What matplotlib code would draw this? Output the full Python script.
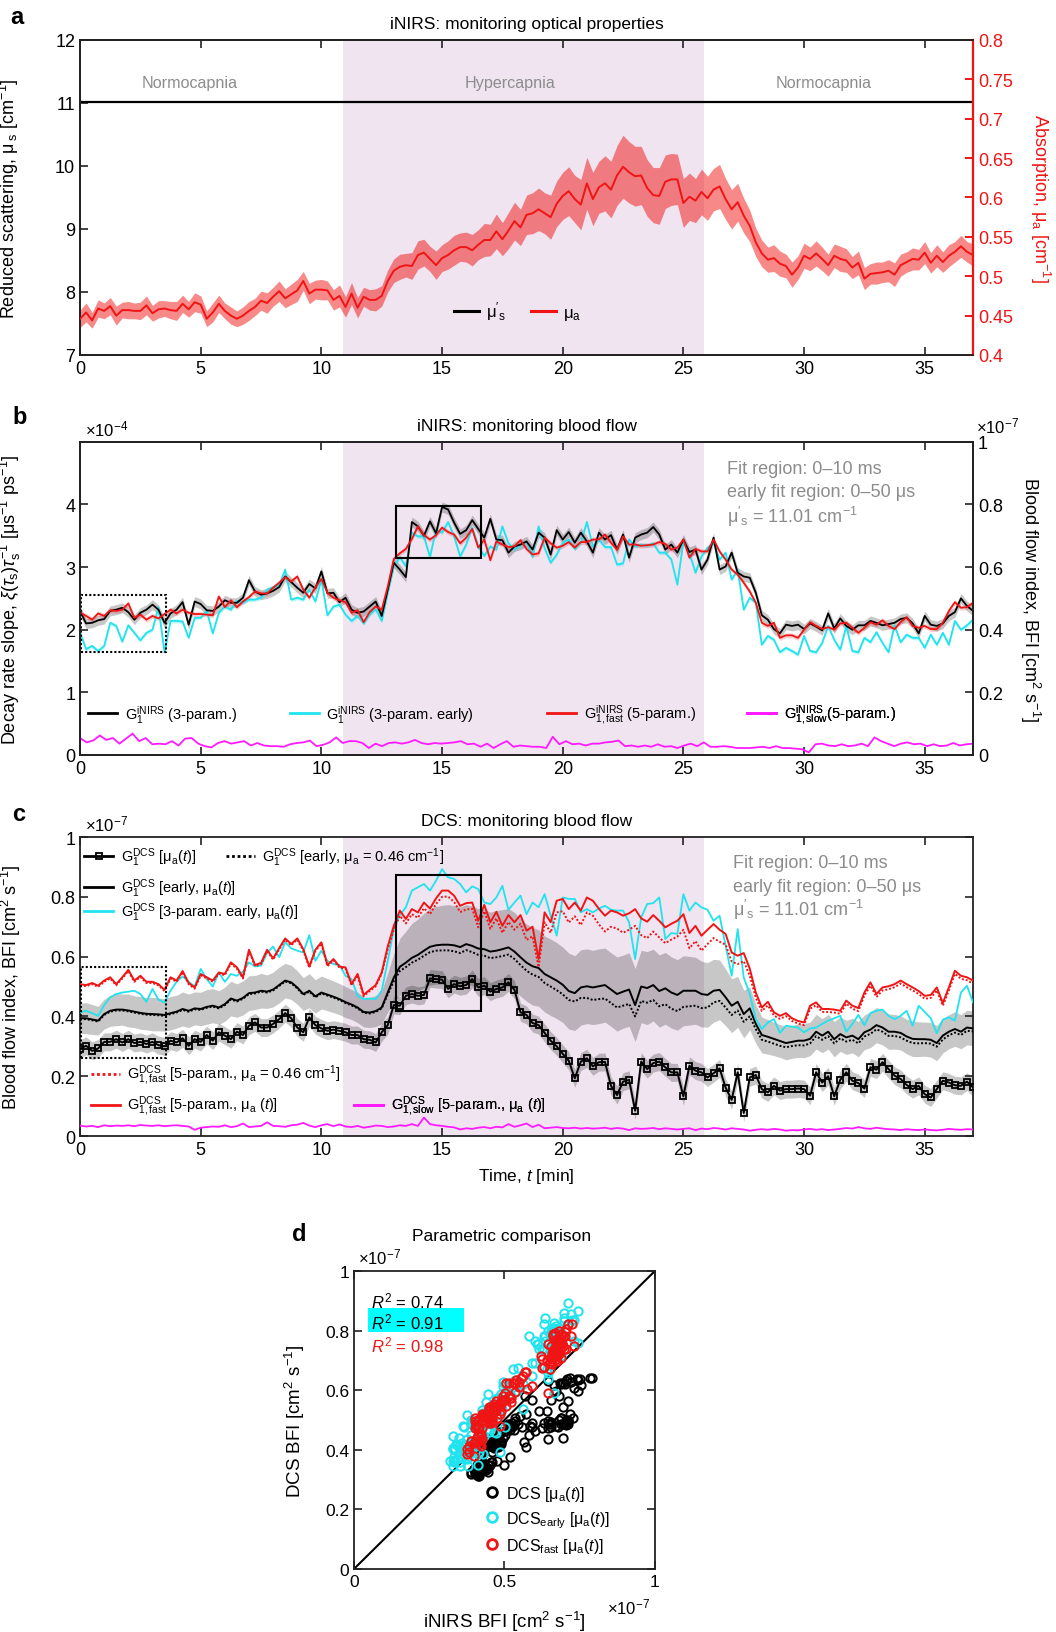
import numpy as np
import matplotlib
matplotlib.use('Agg')
import matplotlib.pyplot as plt
from matplotlib.lines import Line2D
from matplotlib.patches import Rectangle
from matplotlib.ticker import FuncFormatter

plt.rcParams['font.family'] = ['Liberation Sans', 'DejaVu Sans']
plt.rcParams['mathtext.fontset'] = 'custom'
plt.rcParams['mathtext.rm'] = 'Liberation Sans'
plt.rcParams['mathtext.it'] = 'Liberation Sans:italic'
plt.rcParams['mathtext.bf'] = 'Liberation Sans:bold'

# ---------------- data (time grid 0..37 min) ----------------
T_END = 37.0
HYPER = (10.9, 25.85)          # hypercapnia window [min]
MUS_PRIME = 11.01              # reduced scattering [cm-1]
SLOPE_TO_BFI = 0.2             # 5e-4 decay slope <-> 1e-7 BFI

# a: absorption mu_a [cm-1] and its spread
mua = [0.446,0.454,0.444,0.459, 0.456,0.462,0.450,0.457, 0.457,0.456,0.456,0.463, 0.453,0.458,0.459,0.457, 0.456,0.465,0.458,0.467,
       0.464,0.446,0.454,0.465, 0.456,0.450,0.446,0.450, 0.456,0.461,0.469,0.466, 0.474,0.481,0.472,0.477, 0.482,0.494,0.478,0.483,
       0.483,0.482,0.470,0.475, 0.461,0.478,0.460,0.474, 0.470,0.470,0.475,0.494, 0.507,0.512,0.514,0.513, 0.527,0.530,0.522,0.514,
       0.523,0.527,0.533,0.537, 0.537,0.533,0.540,0.546, 0.546,0.557,0.547,0.558, 0.570,0.562,0.578,0.580, 0.585,0.580,0.575,0.592,
       0.602,0.608,0.598,0.591, 0.618,0.598,0.613,0.618, 0.610,0.628,0.639,0.632, 0.627,0.628,0.612,0.603, 0.602,0.620,0.623,0.623,
       0.593,0.601,0.596,0.607, 0.599,0.610,0.614,0.598, 0.585,0.594,0.577,0.564, 0.543,0.529,0.521,0.523, 0.516,0.513,0.502,0.511,
       0.526,0.522,0.529,0.522, 0.514,0.526,0.522,0.520, 0.511,0.517,0.497,0.503, 0.504,0.505,0.507,0.502, 0.514,0.518,0.522,0.521,
       0.530,0.517,0.526,0.518, 0.526,0.531,0.538,0.531, 0.527]
mua_sd = [0.011,0.012,0.010,0.011, 0.010,0.011,0.012,0.010, 0.011,0.010,0.011,0.012, 0.010,0.011,0.010,0.011, 0.012,0.011,0.010,0.012,
          0.011,0.010,0.012,0.011, 0.010,0.011,0.010,0.011, 0.012,0.011,0.012,0.013, 0.012,0.013,0.012,0.013, 0.014,0.012,0.013,0.012,
          0.013,0.012,0.013,0.014, 0.013,0.014,0.013,0.012, 0.013,0.014,0.013,0.014, 0.015,0.016,0.015,0.017, 0.018,0.017,0.016,0.018,
          0.017,0.018,0.019,0.018, 0.019,0.020,0.019,0.021, 0.020,0.022,0.021,0.023, 0.024,0.023,0.025,0.026, 0.027,0.026,0.028,0.029,
          0.030,0.031,0.030,0.032, 0.033,0.034,0.033,0.035, 0.036,0.038,0.040,0.039, 0.038,0.037,0.036,0.035, 0.036,0.034,0.033,0.032,
          0.031,0.030,0.028,0.029, 0.028,0.027,0.028,0.026, 0.025,0.024,0.022,0.020, 0.018,0.017,0.016,0.017, 0.016,0.015,0.016,0.015,
          0.016,0.015,0.016,0.015, 0.014,0.015,0.016,0.015, 0.014,0.015,0.014,0.013, 0.014,0.013,0.014,0.015, 0.014,0.013,0.014,0.013,
          0.014,0.013,0.014,0.013, 0.014,0.013,0.014,0.013, 0.014]

# b: iNIRS decay rate slope [x1e-4 us-1 ps-1]
b_black = [2.30,2.10,2.11,2.15, 2.17,2.30,2.32,2.35, 2.28,2.16,2.27,2.32, 2.40,2.32,2.11,2.26, 2.32,2.44,2.08,2.45,
           2.41,2.31,2.30,2.37, 2.47,2.43,2.43,2.51, 2.79,2.61,2.56,2.58, 2.62,2.68,2.85,2.76, 2.67,2.59,2.73,2.66,
           2.93,2.58,2.59,2.44, 2.51,2.32,2.27,2.29, 2.37,2.45,2.22,2.64, 3.07,2.96,2.84,3.72, 3.65,3.50,3.73,3.54,
           3.96,3.92,3.71,3.53, 3.59,3.75,3.61,3.47, 3.77,3.44,3.43,3.23, 3.33,3.36,3.41,3.28, 3.55,3.47,3.20,3.59,
           3.44,3.56,3.39,3.55, 3.41,3.23,3.55,3.44, 3.51,3.28,3.52,3.15, 3.47,3.52,3.55,3.64, 3.52,3.28,3.36,3.23,
           3.44,3.24,3.28,2.96, 3.12,3.47,2.96,3.01, 3.23,2.91,2.85,2.83, 2.59,2.23,2.16,2.01, 1.94,2.08,2.06,2.08,
           2.01,2.10,2.05,1.99, 2.26,2.02,2.18,2.06, 2.00,2.07,2.07,2.14, 2.11,2.07,2.09,2.11, 2.17,2.19,2.10,1.94,
           2.22,2.08,2.06,2.10, 2.22,2.28,2.50,2.38, 2.30]
b_cyan = [1.95,1.69,1.74,1.66, 1.74,2.11,2.06,1.81, 2.07,1.95,1.83,1.95, 2.00,2.36,1.64,2.14, 2.14,2.13,1.87,2.19,
          2.19,2.30,1.94,2.27, 2.37,2.32,2.46,2.43, 2.48,2.48,2.51,2.64, 2.68,2.71,2.96,2.48, 2.51,2.48,2.64,2.45,
          2.80,2.23,2.37,2.40, 2.24,2.14,2.22,2.10, 2.24,2.33,2.14,2.59, 3.01,3.16,3.01,3.55, 3.49,3.49,3.16,3.60,
          3.55,3.72,3.49,3.17, 3.36,3.63,3.33,3.18, 3.33,3.28,3.65,3.38, 3.28,3.36,3.41,3.16, 3.65,3.30,3.07,3.20,
          3.39,3.44,3.29,3.39, 3.72,3.33,3.44,3.32, 3.32,3.04,3.06,3.44, 3.33,3.36,3.34,3.38, 3.23,3.23,3.12,2.72,
          3.41,3.23,2.91,3.17, 3.31,3.39,3.12,3.23, 2.80,2.96,2.32,2.51, 2.43,1.76,1.90,1.84, 1.64,1.71,1.66,1.60,
          1.90,1.66,1.64,1.79, 2.06,1.84,1.68,2.06, 1.66,1.64,1.87,1.80, 1.96,1.79,1.64,2.07, 1.80,1.92,1.87,1.87,
          1.71,1.92,1.76,1.95, 1.76,2.14,2.00,2.07, 2.16]
b_red = [2.27,2.22,2.16,2.26, 2.22,2.31,2.30,2.32, 2.42,2.19,2.24,2.16, 2.22,2.18,2.25,2.32, 2.26,2.32,2.27,2.25,
         2.25,2.24,2.23,2.53, 2.36,2.47,2.36,2.45, 2.52,2.61,2.58,2.58, 2.67,2.75,2.84,2.77, 2.85,2.64,2.51,2.68,
         2.81,2.59,2.51,2.47, 2.44,2.27,2.31,2.12, 2.28,2.37,2.32,2.69, 3.13,3.22,3.29,3.45, 3.65,3.51,3.44,3.51,
         3.63,3.56,3.52,3.38, 3.47,3.61,3.31,3.44, 3.11,3.41,3.36,3.32, 3.33,3.43,3.29,3.20, 3.22,3.47,3.38,3.31,
         3.34,3.40,3.31,3.40, 3.40,3.44,3.44,3.52, 3.39,3.28,3.49,3.36, 3.36,3.34,3.35,3.36, 3.40,3.37,3.28,3.31,
         3.44,3.15,3.29,3.25, 3.25,3.44,3.25,3.12, 2.96,2.88,2.75,2.61, 2.43,2.11,2.06,2.11, 1.87,1.91,1.91,1.87,
         2.00,2.12,2.06,2.01, 2.04,2.00,2.10,2.11, 2.03,1.95,2.03,2.12, 2.08,2.15,2.06,2.01, 2.12,2.20,2.06,2.03,
         2.06,2.01,2.01,2.11, 2.30,2.44,2.35,2.36, 2.43]
b_magenta = [0.27,0.20,0.23,0.31,0.24,0.27,0.18,0.26,0.34,0.22,0.27,0.17,0.18,0.17,0.22,0.15,0.26,0.27,0.18,0.14,
             0.12,0.19,0.22,0.18,0.20,0.22,0.15,0.19,0.15,0.14,0.14,0.13,0.17,0.19,0.20,0.23,0.14,0.16,0.20,0.28,
             0.19,0.22,0.22,0.19,0.11,0.18,0.14,0.19,0.20,0.18,0.20,0.24,0.19,0.17,0.19,0.18,0.19,0.20,0.22,0.17,
             0.18,0.13,0.18,0.11,0.17,0.22,0.13,0.15,0.14,0.13,0.13,0.11,
             0.29,0.17,0.22,0.17,0.18,0.15,0.18,0.18,0.20,0.21,0.23,0.14,0.15,0.13,0.15,0.13,0.17,0.13,0.14,0.11,
             0.15,0.18,0.14,0.20,0.13,0.13,0.14,0.13,0.11,0.11,0.11,0.12,0.13,0.11,0.14,0.11,0.11,0.10,0.09,0.04,
             0.17,0.18,0.15,0.14,0.17,0.14,0.15,0.18,0.14,0.28,0.22,0.18,0.14,0.18,0.20,0.17,0.18,0.14,0.17,0.14,
             0.15,0.19,0.15,0.17,0.18]
B_BLACK_SD, B_RED_SD, B_CYAN_SD = 0.08, 0.04, 0.03

# c: DCS blood flow index [x1e-7 cm2 s-1]
c_squares = [0.291,0.302,0.285,0.293, 0.315,0.315,0.324,0.313, 0.324,0.311,0.315,0.308, 0.315,0.304,0.300,0.319, 0.313,0.327,0.302,0.324,
             0.315,0.338,0.319,0.347, 0.336,0.324,0.349,0.338, 0.369,0.380,0.363,0.363, 0.375,0.391,0.411,0.394, 0.363,0.347,0.397,0.371,
             0.360,0.352,0.356,0.352, 0.347,0.338,0.338,0.324, 0.322,0.313,0.347,0.371, 0.438,0.436,0.469,0.475, 0.469,0.472,0.527,0.525,
             0.523,0.492,0.508,0.501, 0.505,0.525,0.497,0.503, 0.483,0.492,0.497,0.514, 0.489,0.414,0.405,0.378, 0.371,0.345,0.319,0.300,
             0.275,0.252,0.193,0.249, 0.260,0.233,0.247,0.248, 0.168,0.137,0.182,0.188, 0.085,0.249,0.224,0.244, 0.249,0.230,0.213,0.213,
             0.133,0.235,0.219,0.213, 0.196,0.210,0.226,0.162, 0.121,0.213,0.077,0.196, 0.204,0.157,0.146,0.168, 0.152,0.157,0.157,0.159,
             0.157,0.135,0.213,0.179, 0.200,0.133,0.188,0.213, 0.185,0.177,0.159,0.230, 0.222,0.247,0.224,0.202, 0.191,0.171,0.157,0.168,
             0.140,0.129,0.157,0.185, 0.179,0.170,0.168,0.182, 0.163]
C_SQ_SD = 0.03
c_black = [0.394,0.394,0.390,0.386, 0.408,0.419,0.423,0.423, 0.420,0.416,0.412,0.409, 0.408,0.407,0.405,0.411, 0.416,0.425,0.419,0.427,
           0.425,0.432,0.436,0.430, 0.441,0.460,0.453,0.462, 0.478,0.480,0.486,0.483, 0.490,0.505,0.520,0.514, 0.497,0.475,0.486,0.467,
           0.480,0.473,0.466,0.458, 0.448,0.440,0.430,0.415, 0.413,0.418,0.430,0.480, 0.530,0.566,0.580,0.596, 0.606,0.620,0.633,0.638,
           0.640,0.640,0.638,0.632, 0.642,0.636,0.627,0.625, 0.617,0.620,0.625,0.631, 0.617,0.598,0.580,0.568, 0.562,0.542,0.531,0.520,
           0.506,0.485,0.478,0.497, 0.501,0.497,0.501,0.505, 0.490,0.475,0.483,0.490, 0.438,0.500,0.495,0.505, 0.485,0.494,0.480,0.472,
           0.486,0.486,0.486,0.475, 0.472,0.486,0.489,0.464, 0.436,0.449,0.408,0.427, 0.375,0.338,0.332,0.325, 0.318,0.311,0.315,0.319,
           0.319,0.325,0.349,0.336, 0.349,0.324,0.341,0.330, 0.336,0.324,0.347,0.356, 0.371,0.363,0.349,0.349, 0.345,0.333,0.325,0.324,
           0.324,0.322,0.311,0.336, 0.349,0.358,0.349,0.363, 0.360]
c_black_sd = [0.050,0.052,0.050,0.048, 0.050,0.052,0.054,0.052, 0.055,0.053,0.055,0.054, 0.056,0.055,0.054,0.056, 0.055,0.057,0.056,0.055,
              0.056,0.058,0.057,0.056, 0.057,0.058,0.056,0.057, 0.058,0.057,0.058,0.056, 0.058,0.060,0.058,0.057, 0.056,0.055,0.057,0.056,
              0.055,0.054,0.053,0.052, 0.052,0.050,0.051,0.050, 0.050,0.052,0.055,
              0.065,0.080,0.095,0.105, 0.115,0.120,0.125,0.128, 0.130,0.132,0.134,0.133, 0.134,0.132,0.133,0.134, 0.133,0.132,0.134,0.132,
              0.130,0.131,0.130,0.129, 0.130,0.128,0.127,0.128, 0.127,0.126,0.127,0.125, 0.126,0.125,0.124,0.125, 0.124,0.123,0.124,0.122,
              0.123,0.122,0.121,0.122, 0.120,0.121,0.120,0.119, 0.118,0.117,0.115,0.112, 0.110,0.108,0.105,0.100, 0.095,0.090,0.085,0.080,
              0.072,
              0.065,0.060,0.058,0.056, 0.055,0.056,0.055,0.056, 0.057,0.056,0.058,0.057, 0.058,0.059,0.058,0.057, 0.058,0.059,0.058,0.060,
              0.059,0.058,0.059,0.058, 0.057,0.058,0.059,0.058, 0.057,0.058,0.059,0.058, 0.057,0.058,0.057,0.058, 0.058]
c_black_dot = [0.391,0.391,0.387,0.383, 0.405,0.416,0.420,0.420, 0.417,0.413,0.409,0.406, 0.405,0.404,0.402,0.408, 0.413,0.422,0.416,0.424,
               0.422,0.429,0.433,0.427, 0.438,0.457,0.450,0.459, 0.475,0.477,0.483,0.480, 0.487,0.502,0.517,0.511, 0.494,0.472,0.483,0.464,
               0.477,0.470,0.463,0.455, 0.445,0.437,0.427,0.412, 0.410,0.415,0.427,
               0.474,0.518,0.552,0.565,0.580,0.590,0.603,0.615,0.620,0.621, 0.621,0.618,0.612,0.622,0.615,0.606,0.603,0.595,0.598,0.602,
               0.607,0.592,0.572,0.553,0.540,0.532,0.512,0.500,0.488,0.474, 0.455,0.450,0.462,0.462,0.455,0.458,0.460,0.445,0.430,0.436,
               0.442,0.400,0.452,0.446,0.455,0.434,0.441,0.426,0.418,0.432, 0.434,0.436,0.428,0.430,0.447,0.452,0.430,0.405,0.420,0.382,
               0.400,0.358,0.322,0.316,0.309,0.302,0.297,0.301,0.304,0.303, 0.310,0.334,0.322,0.334,0.310,0.327,0.316,0.322,0.310,0.333,
               0.342,0.357,0.349,0.335,0.335,0.330,0.319,0.311,0.310,0.311, 0.309,0.299,0.323,0.337,0.346,0.338,0.352,0.350]
c_cyan = [0.414,0.419,0.411,0.402, 0.438,0.464,0.475,0.480, 0.483,0.486,0.475,0.449, 0.492,0.456,0.447,0.486, 0.516,0.534,0.516,0.500,
          0.559,0.525,0.500,0.547, 0.516,0.542,0.536,0.550, 0.581,0.567,0.570,0.612, 0.634,0.598,0.648,0.628, 0.620,0.614,0.672,0.586,
          0.620,0.586,0.575,0.572, 0.536,0.525,0.469,0.458, 0.460,0.458,0.486,0.586, 0.692,0.739,0.765,0.821, 0.832,0.843,0.821,0.854,
          0.893,0.865,0.860,0.843, 0.815,0.835,0.826,0.781, 0.776,0.798,0.837,0.757, 0.781,0.804,0.742,0.781, 0.765,0.809,0.737,0.670,
          0.798,0.793,0.793,0.748, 0.759,0.748,0.761,0.770, 0.757,0.754,0.754,0.715, 0.592,0.731,0.776,0.779, 0.798,0.659,0.679,0.676,
          0.809,0.754,0.781,0.765, 0.757,0.720,0.737,0.637, 0.536,0.692,0.531,0.475, 0.391,0.358,0.380,0.391, 0.345,0.369,0.366,0.363,
          0.347,0.360,0.363,0.375, 0.386,0.394,0.402,0.349, 0.375,0.405,0.371,0.411, 0.419,0.423,0.402,0.391, 0.402,0.419,0.369,0.436,
          0.415,0.394,0.344,0.389, 0.397,0.386,0.480,0.503, 0.447]
c_red = [0.508,0.505,0.512,0.503, 0.520,0.531,0.508,0.531, 0.556,0.520,0.536,0.516, 0.516,0.508,0.489,0.531, 0.520,0.552,0.512,0.497,
         0.542,0.531,0.520,0.547, 0.542,0.581,0.564,0.531, 0.623,0.572,0.579,0.623, 0.594,0.628,0.661,0.642, 0.661,0.625,0.567,0.623,
         0.648,0.572,0.592,0.567, 0.564,0.508,0.542,0.472, 0.489,0.505,0.547,0.634, 0.703,0.754,0.726,0.759, 0.748,0.781,0.761,0.795,
         0.821,0.821,0.804,0.770, 0.779,0.781,0.720,0.773, 0.715,0.750,0.703,0.739, 0.715,0.739,0.687,0.700, 0.592,0.748,0.715,0.787,
         0.793,0.759,0.781,0.754, 0.798,0.787,0.760,0.737, 0.754,0.748,0.737,0.745, 0.759,0.728,0.717,0.739, 0.720,0.698,0.710,0.720,
         0.742,0.679,0.703,0.670, 0.690,0.709,0.690,0.676, 0.614,0.603,0.612,0.560, 0.480,0.430,0.449,0.414, 0.402,0.411,0.394,0.385,
         0.380,0.436,0.447,0.425, 0.425,0.423,0.419,0.453, 0.436,0.428,0.480,0.514, 0.475,0.497,0.501,0.508, 0.520,0.508,0.497,0.485,
         0.469,0.472,0.497,0.445, 0.497,0.553,0.536,0.531, 0.520]
c_red_dot = [0.504,0.501,0.508,0.499, 0.516,0.527,0.504,0.527, 0.552,0.516,0.532,0.512, 0.512,0.504,0.485,0.527, 0.516,0.548,0.508,0.493,
             0.538,0.527,0.516,0.543, 0.538,0.577,0.560,0.527, 0.619,0.568,0.575,0.619, 0.590,0.624,0.657,0.638, 0.657,0.621,0.563,0.619,
             0.644,0.568,0.588,0.563, 0.560,0.504,0.538,0.468, 0.485,0.501,0.543,
             0.625,0.690,0.737,0.711,0.742,0.730,0.762,0.742,0.776,0.800, 0.801,0.783,0.749,0.758,0.760,0.698,0.752,0.693,0.728,0.680,
             0.716,0.690,0.710,0.656,0.668,0.565,0.715,0.680,0.748,0.752, 0.714,0.735,0.706,0.748,0.737,0.708,0.684,0.700,0.694,0.680,
             0.690,0.703,0.672,0.662,0.684,0.664,0.645,0.657,0.667,0.690, 0.628,0.652,0.620,0.642,0.662,0.650,0.640,0.584,0.575,0.585,
             0.536,0.462,0.418,0.437,0.403,0.392,0.401,0.385,0.376,0.371, 0.426,0.437,0.415,0.415,0.413,0.409,0.443,0.426,0.418,0.470,
             0.503,0.465,0.487,0.491,0.498,0.510,0.498,0.487,0.475,0.459, 0.462,0.487,0.436,0.487,0.543,0.526,0.521,0.510]
c_magenta = [0.035,0.032,0.034,0.030,0.036,0.033,0.035,0.034,0.036,0.033,0.037,0.035,0.034,0.036,0.033,0.035,0.036,0.034,0.032,0.021,
             0.028,0.030,0.032,0.031,0.036,0.030,0.033,0.042,0.030,0.032,0.034,0.046,0.034,0.033,0.031,0.036,0.038,0.044,0.035,0.030,
             0.036,0.040,0.033,0.039,0.032,0.030,0.034,0.028,0.031,0.035,0.034,0.030,0.032,0.036,0.034,0.040,0.034,0.062,0.040,0.036,
             0.034,0.031,0.029,0.022,0.026,0.024,0.028,0.030,0.026,0.031,0.029,0.040,0.031,0.036,0.042,0.030,0.038,0.026,0.028,0.030,
             0.027,0.026,0.028,0.025,0.027,0.025,0.026,0.028,0.024,0.027,0.025,0.020,0.026,0.024,0.025,0.027,0.023,0.026,0.024,0.022,
             0.024,0.026,0.020,0.025,0.023,0.027,0.025,0.022,0.026,0.024,0.022,0.018,0.021,0.023,0.021,0.024,0.022,0.018,0.020,0.019,
             0.022,0.024,0.021,0.023,0.020,0.022,0.024,0.027,0.025,0.030,0.026,0.024,0.028,0.025,0.023,0.022,0.020,0.023,0.021,0.020,
             0.022,0.020,0.019,0.021,0.024,0.022,0.021,0.023,0.022]

# zoom boxes drawn in b and c: (t0, t1, y0, y1)
BOX_B = (13.1, 16.6, 3.15, 3.97)
DOTBOX_B = (0.05, 3.55, 1.64, 2.56)
BOX_C = (13.1, 16.6, 0.419, 0.873)
DOTBOX_C = (0.05, 3.55, 0.26, 0.564)

R2_LABELS = ['0.74', '0.91', '0.98']

# ---------------- style ----------------
PURPLE = '#efe4f0'
RED = '#f01414'
CYAN = '#1fe3ee'
MAGENTA = '#ff1aff'
GRAYTXT = '#8c8c8c'
SPINE = '#222222'
TICK_FS = 13
LAB_FS = 13
LEG_FS = 10.5
fmt = FuncFormatter(lambda v, p: f'{v:g}')


def tgrid(y):
    return np.linspace(0, T_END, len(y))


def style(ax, top=True, right=True):
    for s in ax.spines.values():
        s.set_linewidth(1.3)
        s.set_color(SPINE)
    ax.tick_params(direction='in', length=6, width=1.2, top=top, right=right,
                   labelsize=TICK_FS, colors=SPINE, labelcolor='k')


def key(ax, handle, label, x, y, size=LEG_FS, hl=2.0):
    lg = ax.legend([handle], [label], loc='center left', bbox_to_anchor=(x, y),
                   frameon=False, fontsize=size, handlelength=hl,
                   handletextpad=0.5, borderpad=0, borderaxespad=0)
    ax.add_artist(lg)
    return lg


def band(ax, y, sd, color, alpha, z=1):
    y = np.asarray(y)
    ax.fill_between(tgrid(y), y - np.asarray(sd), y + np.asarray(sd), color=color,
                    alpha=alpha, lw=0, zorder=z)


def box(ax, b, ls='-'):
    ax.add_patch(Rectangle((b[0], b[2]), b[1] - b[0], b[3] - b[2], fill=False,
                           lw=1.5, ls=ls, ec='k', zorder=6))


fig = plt.figure(figsize=(10.56, 16.33), dpi=100)

# ---------------- panel a ----------------
ax = fig.add_axes([0.0758, 0.782, 0.8456, 0.1929])
ax.axvspan(*HYPER, color=PURPLE, lw=0, zorder=0)
ax.axhline(MUS_PRIME, color='k', lw=1.6, zorder=2)
ax.set_xlim(0, T_END)
ax.set_ylim(7, 12)
ax.set_xticks(range(0, 36, 5))
ax.set_yticks(range(7, 13))
ax.yaxis.set_major_formatter(fmt)
style(ax, right=False)
ax.set_ylabel("Reduced scattering, $\\mathrm{μ}'_\\mathrm{s}$ [cm$^{-1}$]", fontsize=LAB_FS)
ax.yaxis.set_label_coords(-0.066, 0.5)
for tx, name in [(4.56, 'Normocapnia'), (17.8, 'Hypercapnia'), (30.8, 'Normocapnia')]:
    ax.text(tx, 11.32, name, ha='center', va='center', color=GRAYTXT, fontsize=11.6)

ax2 = ax.twinx()
ta = tgrid(mua)
band(ax2, mua, mua_sd, RED, 0.5)
ax2.plot(ta, mua, color=RED, lw=1.4, zorder=3)
ax2.set_ylim(0.4, 0.8)
ax2.set_yticks([0.4, 0.45, 0.5, 0.55, 0.6, 0.65, 0.7, 0.75, 0.8])
ax2.yaxis.set_major_formatter(fmt)
for s in ax2.spines.values():
    s.set_linewidth(1.3)
    s.set_color(SPINE)
ax2.spines['right'].set_color(RED)
ax2.spines['right'].set_linewidth(1.6)
ax2.tick_params(direction='in', length=6, width=1.4, colors=RED, labelsize=TICK_FS)
ax2.set_ylabel('Absorption, $\\mathrm{μ_a}$ [cm$^{-1}$]', color=RED, fontsize=LAB_FS,
               rotation=270, va='bottom')
ax2.yaxis.set_label_coords(1.062, 0.5)
ax2.legend([Line2D([], [], color='k', lw=2.2), Line2D([], [], color=RED, lw=2.2)],
           ["$\\mathrm{μ}'_\\mathrm{s}$", '$\\mathrm{μ_a}$'], ncol=2, frameon=False,
           loc='center', bbox_to_anchor=(0.49, 0.14), fontsize=12,
           handlelength=1.5, handletextpad=0.4, columnspacing=1.5)

# ---------------- panel b ----------------
axb = fig.add_axes([0.0758, 0.5371, 0.8456, 0.1917])
axb.axvspan(*HYPER, color=PURPLE, lw=0, zorder=0)
band(axb, b_black, B_BLACK_SD, 'k', 0.22)
band(axb, b_cyan, B_CYAN_SD, CYAN, 0.3)
band(axb, b_red, B_RED_SD, RED, 0.2)
axb.plot(tgrid(b_cyan), b_cyan, color=CYAN, lw=1.3, zorder=3)
axb.plot(tgrid(b_black), b_black, color='k', lw=1.3, zorder=4)
axb.plot(tgrid(b_red), b_red, color=RED, lw=1.3, zorder=5)
axb.plot(tgrid(b_magenta), b_magenta, color=MAGENTA, lw=1.3, zorder=3)
box(axb, BOX_B)
box(axb, DOTBOX_B, ls=(0, (1, 1)))
axb.set_xlim(0, T_END)
axb.set_ylim(0, 5)
axb.set_xticks(range(0, 36, 5))
axb.set_yticks([0, 1, 2, 3, 4])
style(axb, right=False)
axb.set_ylabel('Decay rate slope, $\\xi(\\tau_\\mathrm{s})\\tau_\\mathrm{s}^{-1}$ [μs$^{-1}$ ps$^{-1}$]',
               fontsize=LAB_FS)
axb.yaxis.set_label_coords(-0.064, 0.5)
axb.text(0.005, 1.012, '×10$^{-4}$', transform=axb.transAxes, fontsize=12, va='bottom')
axb2 = axb.twinx()
axb2.set_ylim(0, 5 * SLOPE_TO_BFI)
axb2.set_yticks([0, 0.2, 0.4, 0.6, 0.8, 1.0])
axb2.yaxis.set_major_formatter(fmt)
style(axb2, top=False)
axb2.set_ylabel('Blood flow index, BFI [cm$^2$ s$^{-1}$]', fontsize=LAB_FS,
                rotation=270, va='bottom')
axb2.yaxis.set_label_coords(1.05, 0.5)
axb2.text(1.003, 1.02, '×10$^{-7}$', transform=axb.transAxes, fontsize=12, va='bottom')
for y, s in [(4.57, 'Fit region: 0–10 ms'), (4.20, 'early fit region: 0–50 μs'),
             (3.82, "$\\mathrm{μ}'_\\mathrm{s}$ = 11.01 cm$^{-1}$")]:
    axb.text(26.8, y, s, color=GRAYTXT, fontsize=13, va='center')
key(axb, Line2D([], [], color='k', lw=2), '$\\mathrm{G_1^{iNIRS}}$ (3-param.)', 0.009, 0.131)
key(axb, Line2D([], [], color=CYAN, lw=2), '$\\mathrm{G_1^{iNIRS}}$ (3-param. early)', 0.235, 0.131)
key(axb, Line2D([], [], color=RED, lw=2), '$\\mathrm{G_{1,fast}^{iNIRS}}$ (5-param.)', 0.523, 0.131)
key(axb, Line2D([], [], color=MAGENTA, lw=2), '$\\mathrm{G_{1,slow}^{iNIRS}}$(5-param.)', 0.747, 0.131)

# ---------------- panel c ----------------
axc = fig.add_axes([0.0758, 0.3037, 0.8456, 0.1831])
axc.axvspan(*HYPER, color=PURPLE, lw=0, zorder=0)
band(axc, c_black, c_black_sd, 'k', 0.22)
band(axc, c_squares, C_SQ_SD, 'k', 0.22)
axc.plot(tgrid(c_squares), c_squares, color='k', lw=1.4, marker='s', ms=4.2,
         mfc='none', mec='k', mew=1.3, zorder=4)
axc.plot(tgrid(c_black_dot), c_black_dot, color='k', lw=1.4, ls=(0, (1, 1)), zorder=4)
axc.plot(tgrid(c_black), c_black, color='k', lw=1.4, zorder=4)
axc.plot(tgrid(c_cyan), c_cyan, color=CYAN, lw=1.3, zorder=5)
axc.plot(tgrid(c_red_dot), c_red_dot, color=RED, lw=1.4, ls=(0, (1, 1)), zorder=6)
axc.plot(tgrid(c_red), c_red, color=RED, lw=1.4, zorder=6)
axc.plot(tgrid(c_magenta), c_magenta, color=MAGENTA, lw=1.3, zorder=5)
box(axc, BOX_C)
box(axc, DOTBOX_C, ls=(0, (1, 1)))
axc.set_xlim(0, T_END)
axc.set_ylim(0, 1)
axc.set_xticks(range(0, 36, 5))
axc.set_yticks([0, 0.2, 0.4, 0.6, 0.8, 1.0])
axc.yaxis.set_major_formatter(fmt)
style(axc)
axc.set_ylabel('Blood flow index, BFI [cm$^2$ s$^{-1}$]', fontsize=LAB_FS)
axc.yaxis.set_label_coords(-0.064, 0.5)
axc.set_xlabel('Time, $t$ [min]', fontsize=12.5, labelpad=6)
axc.text(0.005, 1.012, '×10$^{-7}$', transform=axc.transAxes, fontsize=12, va='bottom')
for y, s in [(0.916, 'Fit region: 0–10 ms'), (0.836, 'early fit region: 0–50 μs'),
             (0.759, "$\\mathrm{μ}'_\\mathrm{s}$ = 11.01 cm$^{-1}$")]:
    axc.text(27.06, y, s, color=GRAYTXT, fontsize=13, va='center')
key(axc, Line2D([], [], color='k', lw=2, marker='s', ms=5, mfc='none', mew=1.3),
    '$\\mathrm{G_1^{DCS}}$ [$\\mathrm{μ_a}$($t$)]', 0.0045, 0.933)
key(axc, Line2D([], [], color='k', lw=2, ls=(0, (1, 1))),
    '$\\mathrm{G_1^{DCS}}$ [early, $\\mathrm{μ_a}$ = 0.46 cm$^{-1}$]', 0.163, 0.933)
key(axc, Line2D([], [], color='k', lw=2),
    '$\\mathrm{G_1^{DCS}}$ [early, $\\mathrm{μ_a}$($t$)]', 0.0045, 0.829)
key(axc, Line2D([], [], color=CYAN, lw=2),
    '$\\mathrm{G_1^{DCS}}$ [3-param. early, $\\mathrm{μ_a}$($t$)]', 0.0045, 0.749)
key(axc, Line2D([], [], color=RED, lw=2, ls=(0, (1, 1))),
    '$\\mathrm{G_{1,fast}^{DCS}}$ [5-param., $\\mathrm{μ_a}$ = 0.46 cm$^{-1}$]', 0.012, 0.204)
key(axc, Line2D([], [], color=RED, lw=2),
    '$\\mathrm{G_{1,fast}^{DCS}}$ [5-param., $\\mathrm{μ_a}$ ($t$)]', 0.012, 0.100)
key(axc, Line2D([], [], color=MAGENTA, lw=2),
    '$\\mathrm{G_{1,slow}^{DCS}}$ [5-param., $\\mathrm{μ_a}$ ($t$)]', 0.307, 0.100)

# ---------------- panel d ----------------
axd = fig.add_axes([0.3352, 0.0386, 0.2850, 0.1825])
axd.axline((0, 0), slope=1, color='k', lw=1.5, zorder=1)
pairs = [(b_black, c_black, 'k'), (b_cyan, c_cyan, CYAN), (b_red, c_red, RED)]
for xs, ys, col in pairs:
    axd.plot(np.asarray(xs) * SLOPE_TO_BFI, ys, 'o', ls='none', mfc='none', mec=col,
             ms=6, mew=1.4, zorder=3)
axd.set_xlim(0, 1)
axd.set_ylim(0, 1)
axd.set_xticks([0, 0.5, 1])
axd.set_yticks([0, 0.2, 0.4, 0.6, 0.8, 1.0])
axd.xaxis.set_major_formatter(fmt)
axd.yaxis.set_major_formatter(fmt)
style(axd)
axd.tick_params(labelsize=12.5)
axd.set_xlabel('iNIRS BFI [cm$^2$ s$^{-1}$]', fontsize=13.5)
axd.xaxis.set_label_coords(0.5, -0.135)
axd.set_ylabel('DCS BFI [cm$^2$ s$^{-1}$]', fontsize=13.5)
axd.yaxis.set_label_coords(-0.155, 0.5)
axd.text(0.015, 1.015, '×10$^{-7}$', transform=axd.transAxes, fontsize=12, va='bottom')
axd.text(0.84, -0.125, '×10$^{-7}$', transform=axd.transAxes, fontsize=12, va='center')
axd.add_patch(Rectangle((0.047, 0.794), 0.318, 0.08, color='#00ffff', lw=0, zorder=2))
for y, s, col in [(0.90, R2_LABELS[0], 'k'), (0.83, R2_LABELS[1], 'k'), (0.752, R2_LABELS[2], RED)]:
    axd.text(0.056, y, '$R^2$ = ' + s, color=col, fontsize=12, va='center', zorder=4)
hd = [Line2D([], [], ls='none', marker='o', mfc='none', mec=c, ms=7, mew=2) for c in ['k', CYAN, RED]]
axd.legend(hd, ['DCS [$\\mathrm{μ_a}$($t$)]', '$\\mathrm{DCS_{early}}$ [$\\mathrm{μ_a}$($t$)]',
                '$\\mathrm{DCS_{fast}}$ [$\\mathrm{μ_a}$($t$)]'],
           loc='lower left', bbox_to_anchor=(0.41, 0.02), frameon=False, fontsize=11.5,
           handlelength=0.8, handletextpad=0.5, labelspacing=0.4, borderpad=0)

# ---------------- titles and panel letters ----------------
fig.text(527 / 1056, 1 - 25 / 1633, 'iNIRS: monitoring optical properties', ha='center', va='center', fontsize=12.5)
fig.text(527 / 1056, 1 - 426 / 1633, 'iNIRS: monitoring blood flow', ha='center', va='center', fontsize=12.5)
fig.text(527 / 1056, 1 - 822 / 1633, 'DCS: monitoring blood flow', ha='center', va='center', fontsize=12.5)
fig.text(502 / 1056, 1 - 1237 / 1633, 'Parametric comparison', ha='center', va='center', fontsize=12.5)
for lx, ly, s in [(10, 18, 'a'), (12, 418, 'b'), (12, 815, 'c'), (292, 1235, 'd')]:
    fig.text(lx / 1056, 1 - ly / 1633, s, ha='left', va='center', fontsize=17, fontweight='bold')

fig.savefig('out.png', dpi=100)
